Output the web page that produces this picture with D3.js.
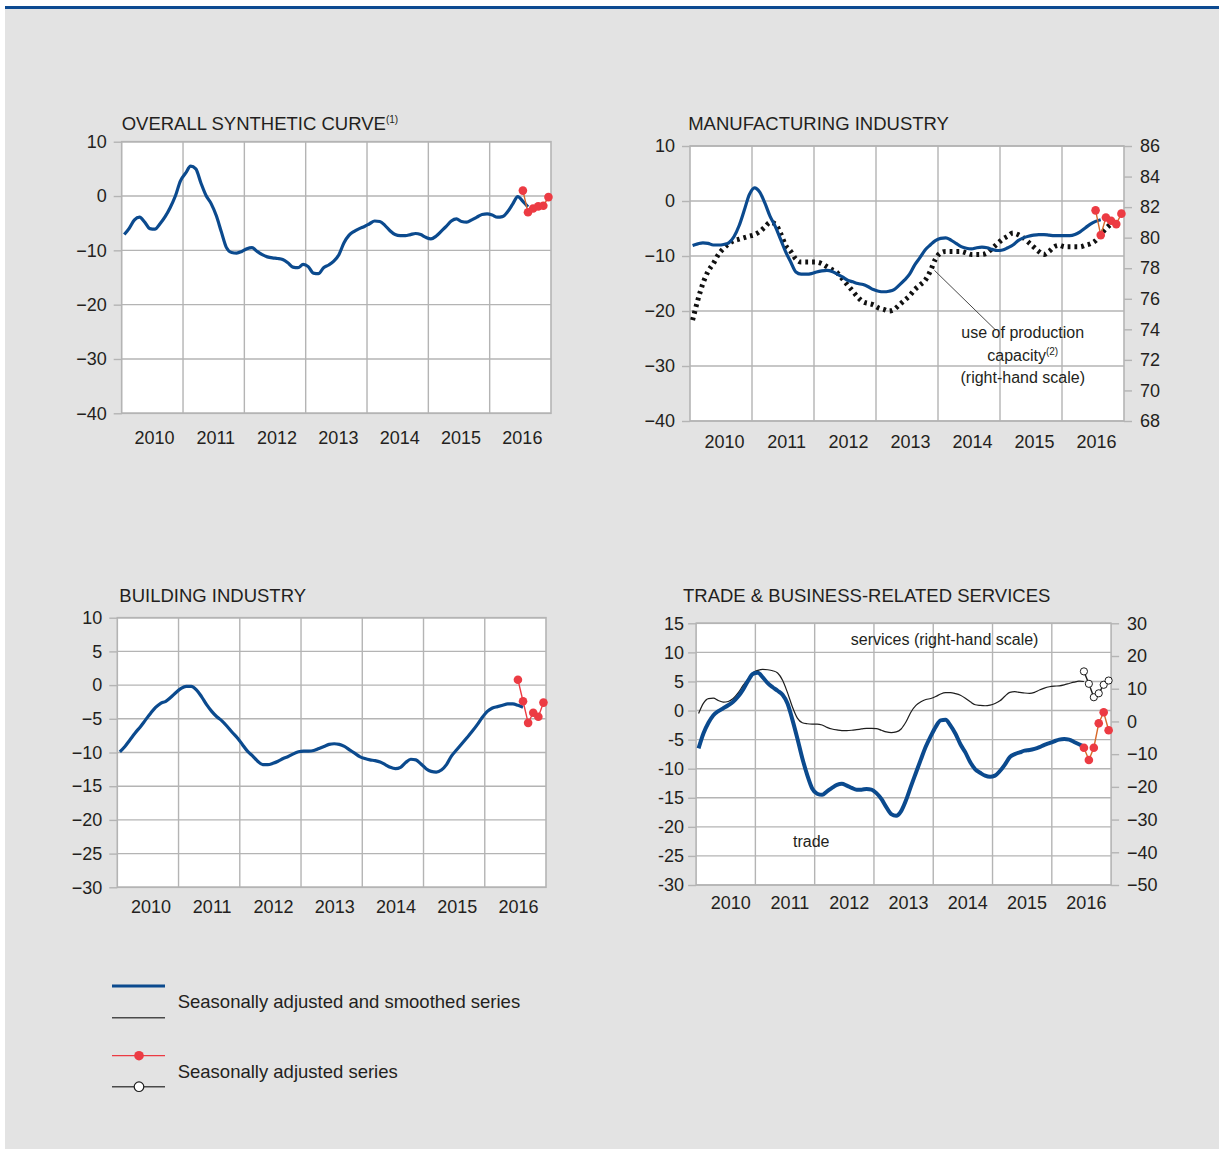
<!DOCTYPE html>
<html>
<head>
<meta charset="utf-8">
<script src="https://cdn.jsdelivr.net/npm/d3@7"></script>
<style>
  html, body { margin: 0; padding: 0; background: #ffffff; }
  svg { display: block; font-family: "Liberation Sans", Arial, Helvetica, sans-serif; }
</style>
</head>
<body>
<svg id="chart" width="1219" height="1149"></svg>
<script>
// ---- data: monthly values, index 0 = January 2010 ----
const yearLabels = ["2010", "2011", "2012", "2013", "2014", "2015", "2016"];
const rawStart = 78; // July 2016: first month of the unsmoothed series

// Overall synthetic curve, seasonally adjusted and smoothed
const overallSmoothed = [
  -7.1, -5.9, -4.4, -3.9, -4.8, -6.0, -6.1, -5.1, -3.8, -2.1,
   0.0,  2.8,  4.2,  5.5,  5.0,  2.4,  0.1, -1.4, -3.6, -6.6,
  -9.5, -10.4, -10.5, -10.2, -9.7, -9.5, -10.2, -10.8, -11.2, -11.4,
  -11.5, -11.7, -12.3, -13.1, -13.2, -12.6, -13.0, -14.2, -14.3, -13.2,
  -12.7, -12.0, -10.8, -8.6, -7.2, -6.5, -6.0, -5.6, -5.1, -4.6,
  -4.7, -5.4, -6.4, -7.1, -7.3, -7.3, -7.1, -6.9, -7.1, -7.6,
  -7.9, -7.4, -6.5, -5.6, -4.6, -4.2, -4.7, -4.8, -4.4, -3.9,
  -3.4, -3.3, -3.5, -3.9, -3.8, -2.9, -1.5, -0.1, -1.0, -2.0
];
const overallRaw = [1.0, -3.0, -2.3, -1.9, -1.8, -0.2];

// Manufacturing industry
const manufSmoothed = [
  -8.1, -7.8, -7.6, -7.7, -8.0, -8.0, -7.9, -7.6, -6.5, -4.5,
  -1.7,  1.2,  2.4,  1.6, -0.4, -2.8, -4.6, -6.9, -9.2, -11.1,
  -12.9, -13.3, -13.3, -13.2, -12.9, -12.7, -12.6, -12.8, -13.3, -13.8,
  -14.4, -14.7, -15.0, -15.2, -15.6, -16.1, -16.4, -16.5, -16.4, -16.1,
  -15.3, -14.4, -13.3, -11.6, -10.3, -8.9, -8.0, -7.2, -6.8, -6.7,
  -7.1, -7.7, -8.3, -8.6, -8.7, -8.5, -8.4, -8.5, -8.8, -9.0,
  -8.9, -8.5, -8.0, -7.2, -6.7, -6.4, -6.2, -6.1, -6.1, -6.2,
  -6.3, -6.3, -6.3, -6.3, -6.1, -5.6, -4.9, -4.2, -3.7, -3.4
];
const manufRaw = [-1.7, -6.2, -3.0, -3.6, -4.2, -2.3];
// Use of production capacity, % (right-hand scale)
const capacityUse = [
  74.6, 75.9, 77.0, 77.8, 78.3, 78.9, 79.3, 79.6, 79.8, 79.9,
  80.0, 80.1, 80.2, 80.4, 80.7, 81.0, 80.9, 80.3, 79.5, 79.1,
  78.6, 78.4, 78.4, 78.4, 78.4, 78.3, 78.1, 77.9, 77.7, 77.3,
  76.9, 76.5, 76.1, 75.8, 75.7, 75.6, 75.4, 75.3, 75.2, 75.3,
  75.6, 75.9, 76.2, 76.6, 76.9, 77.2, 77.8, 78.6, 79.0, 79.1,
  79.1, 79.1, 79.1, 79.0, 78.9, 78.9, 78.9, 79.0, 79.3, 79.6,
  79.9, 80.1, 80.3, 80.2, 80.0, 79.7, 79.4, 79.1, 78.9, 79.1,
  79.4, 79.5, 79.4, 79.4, 79.4, 79.4, 79.5, 79.6, 79.8, 80.2,
  80.6, 80.9
];

// Building industry
const buildingSmoothed = [
  -9.9, -9.1, -8.1, -7.1, -6.2, -5.2, -4.2, -3.3, -2.7, -2.4,
  -1.8, -1.1, -0.5, -0.2, -0.2, -0.7, -1.7, -2.9, -3.9, -4.7,
  -5.3, -6.1, -7.0, -7.8, -8.8, -9.8, -10.5, -11.3, -11.8, -11.8,
  -11.6, -11.3, -10.9, -10.6, -10.2, -9.9, -9.8, -9.8, -9.7, -9.4,
  -9.1, -8.8, -8.7, -8.8, -9.1, -9.6, -10.1, -10.6, -10.9, -11.1,
  -11.2, -11.4, -11.8, -12.2, -12.4, -12.2, -11.5, -11.0, -11.1, -11.7,
  -12.4, -12.8, -12.9, -12.6, -11.8, -10.5, -9.6, -8.7, -7.8, -6.9,
  -5.9, -4.8, -3.9, -3.4, -3.2, -3.0, -2.8, -2.8, -3.0, -3.3
];
const buildingRaw = [0.8, -2.4, -5.6, -4.1, -4.7, -2.6];

// Trade (left-hand scale)
const tradeSmoothed = [
  -6.5, -3.9, -2.1, -0.8, -0.1, 0.4, 0.9, 1.5, 2.4, 3.6,
   5.1, 6.3, 6.5, 5.7, 4.7, 4.0, 3.4, 2.7, 1.2, -1.6,
  -4.8, -8.2, -11.1, -13.4, -14.3, -14.5, -13.9, -13.3, -12.8, -12.6,
  -12.9, -13.3, -13.6, -13.6, -13.5, -13.6, -14.2, -15.2, -16.6, -17.8,
  -18.1, -17.3, -15.4, -13.0, -10.7, -8.4, -6.2, -4.4, -2.8, -1.7,
  -1.6, -2.6, -4.0, -5.8, -7.2, -8.9, -10.1, -10.7, -11.2, -11.4,
  -11.2, -10.4, -9.3, -8.0, -7.5, -7.2, -6.9, -6.8, -6.6, -6.3,
  -5.9, -5.6, -5.3, -5.0, -4.9, -5.0, -5.4, -5.8, -6.2
];
const tradeRaw = [-6.4, -8.5, -6.4, -2.2, -0.3, -3.4];
// Business-related services (right-hand scale)
const servicesSmoothed = [
   2.4, 5.6, 7.0, 7.1, 6.4, 5.9, 6.1, 7.0, 8.7, 11.0,
  12.9, 14.9, 15.6, 15.9, 15.8, 15.5, 14.8, 12.6, 8.8, 4.4,
   1.0, -0.4, -0.7, -0.8, -0.8, -1.1, -1.8, -2.3, -2.6, -2.8,
  -2.8, -2.7, -2.5, -2.3, -2.1, -2.1, -2.2, -2.7, -3.2, -3.4,
  -3.2, -2.3, -0.1, 2.9, 4.9, 6.0, 6.7, 7.0, 7.6, 8.4,
   8.8, 8.8, 8.5, 8.0, 7.1, 6.0, 5.1, 4.9, 4.8, 5.0,
   5.5, 6.3, 7.7, 8.9, 9.1, 8.9, 8.7, 8.6, 8.9, 9.6,
  10.2, 10.6, 10.8, 10.9, 11.2, 11.6, 12.0, 12.3, 12.2
];
const servicesRaw = [15.3, 11.5, 7.4, 8.6, 11.2, 12.5];

// ---- styling ----
const C = {
  page: "#e3e3e3",
  band: "#0d4a91",
  grid: "#b4b4b4",
  text: "#231f20",
  blue: "#0b4a8e",
  red: "#ec3b43",
  orange: "#d8692a",
  dark: "#1e1e1e"
};
const FONT = 18;     // tick and year labels
const FONT_T = 18.5; // titles and legend

const svg = d3.select("#chart");
svg.append("rect").attr("x", 5).attr("y", 6).attr("width", 1214).attr("height", 1143).attr("fill", C.page);
svg.append("rect").attr("x", 5).attr("y", 6).attr("width", 1214).attr("height", 3).attr("fill", C.band);

const minusFmt = d => (d < 0 ? "\u2212" + Math.abs(d) : String(d));
const hyphenFmt = d => String(d);

function panel(cfg) {
  const g = svg.append("g");
  const x = d3.scaleLinear().domain([0, 84]).range([cfg.left, cfg.left + cfg.width]);
  const y = d3.scaleLinear().domain(cfg.yDomain).range([cfg.top + cfg.height, cfg.top]);
  const yR = cfg.rDomain
    ? d3.scaleLinear().domain(cfg.rDomain).range([cfg.top + cfg.height, cfg.top])
    : null;
  const mx = i => x(i + 0.5);

  // plot background
  g.append("rect")
    .attr("x", cfg.left).attr("y", cfg.top)
    .attr("width", cfg.width).attr("height", cfg.height)
    .attr("fill", "#ffffff");

  // horizontal grid
  g.selectAll(".hg").data(cfg.yTicks).join("line")
    .attr("x1", cfg.left).attr("x2", cfg.left + cfg.width)
    .attr("y1", d => y(d)).attr("y2", d => y(d))
    .attr("stroke", C.grid).attr("stroke-width", 1.4);

  // vertical grid at each January
  g.selectAll(".vg").data(d3.range(1, 7)).join("line")
    .attr("x1", d => x(d * 12)).attr("x2", d => x(d * 12))
    .attr("y1", cfg.top).attr("y2", cfg.top + cfg.height)
    .attr("stroke", C.grid).attr("stroke-width", 1.4);

  // frame
  g.append("rect")
    .attr("x", cfg.left).attr("y", cfg.top)
    .attr("width", cfg.width).attr("height", cfg.height)
    .attr("fill", "none").attr("stroke", C.grid).attr("stroke-width", 1.6);

  // left axis
  const ax = g.append("g")
    .attr("transform", `translate(${cfg.left},0)`)
    .call(d3.axisLeft(y).tickValues(cfg.yTicks).tickSize(8).tickPadding(cfg.padL).tickFormat(cfg.fmt));
  ax.select(".domain").remove();
  ax.selectAll(".tick line").attr("stroke", C.grid).attr("stroke-width", 1.4);
  ax.selectAll(".tick text").attr("fill", C.text).attr("font-size", FONT)
    .attr("font-family", "Liberation Sans, Arial, sans-serif");

  // right axis
  if (yR) {
    const ar = g.append("g")
      .attr("transform", `translate(${cfg.left + cfg.width},0)`)
      .call(d3.axisRight(yR).tickValues(cfg.rTicks).tickSize(8).tickPadding(8).tickFormat(minusFmt));
    ar.select(".domain").remove();
    ar.selectAll(".tick line").attr("stroke", C.grid).attr("stroke-width", 1.4);
    ar.selectAll(".tick text").attr("fill", C.text).attr("font-size", FONT)
      .attr("font-family", "Liberation Sans, Arial, sans-serif");
  }

  // year labels
  g.selectAll(".yl").data(yearLabels).join("text")
    .attr("x", (d, i) => x(i * 12 + cfg.yearPos))
    .attr("y", cfg.yearY)
    .attr("text-anchor", "middle")
    .attr("font-size", FONT).attr("fill", C.text)
    .text(d => d);

  // title
  const t = g.append("text")
    .attr("x", cfg.titleX).attr("y", cfg.titleY)
    .attr("font-size", FONT_T).attr("fill", C.text)
    .text(cfg.title);
  if (cfg.sup) {
    t.append("tspan").attr("font-size", 10).attr("dy", -7).text(cfg.sup);
  }

  return { g, x, y, yR, mx };
}

const smoothLine = (xf, yf) => d3.line().x((d, i) => xf(i)).y(d => yf(d)).curve(d3.curveMonotoneX);
const rawLine = (xf, yf) => d3.line().x((d, i) => xf(rawStart + i)).y(d => yf(d));

function drawRaw(p, values, scale, lineColor, filled) {
  p.g.append("path").datum(values)
    .attr("d", rawLine(p.mx, scale))
    .attr("fill", "none").attr("stroke", lineColor).attr("stroke-width", 1.4);
  p.g.selectAll(null).data(values).join("circle")
    .attr("cx", (d, i) => p.mx(rawStart + i))
    .attr("cy", d => scale(d))
    .attr("r", filled ? 4.3 : 3.6)
    .attr("fill", filled ? C.red : "#ffffff")
    .attr("stroke", filled ? "none" : C.dark)
    .attr("stroke-width", 1);
}

// ---- Overall synthetic curve ----
const p1 = panel({
  left: 121.7, top: 141.7, width: 429.3, height: 271.6,
  yDomain: [-40, 10], yTicks: [-40, -30, -20, -10, 0, 10], fmt: minusFmt, padL: 7,
  title: "OVERALL SYNTHETIC CURVE", sup: "(1)", titleX: 121.7, titleY: 130,
  yearY: 443.5, yearPos: 6.4
});
p1.g.append("path").datum(overallSmoothed)
  .attr("d", smoothLine(p1.mx, p1.y))
  .attr("fill", "none").attr("stroke", C.blue).attr("stroke-width", 3.2).attr("stroke-linejoin", "round");
drawRaw(p1, overallRaw, p1.y, C.orange, true);

// ---- Manufacturing industry ----
const p2 = panel({
  left: 690, top: 146, width: 434, height: 275,
  yDomain: [-40, 10], yTicks: [-40, -30, -20, -10, 0, 10], fmt: minusFmt, padL: 7,
  rDomain: [68, 86], rTicks: d3.range(68, 87, 2),
  title: "MANUFACTURING INDUSTRY", titleX: 688.2, titleY: 130,
  yearY: 448, yearPos: 6.7
});
p2.g.append("path").datum(capacityUse)
  .attr("d", smoothLine(p2.mx, p2.yR))
  .attr("fill", "none").attr("stroke", "#111111").attr("stroke-width", 5)
  .attr("stroke-dasharray", "2.8,4");
p2.g.append("path").datum(manufSmoothed)
  .attr("d", smoothLine(p2.mx, p2.y))
  .attr("fill", "none").attr("stroke", C.blue).attr("stroke-width", 3.2).attr("stroke-linejoin", "round");
drawRaw(p2, manufRaw, p2.y, C.orange, true);
// annotation for the capacity series
p2.g.append("line")
  .attr("x1", p2.mx(46.8)).attr("y1", p2.y(-12.6))
  .attr("x2", p2.mx(58.7)).attr("y2", p2.y(-23.5))
  .attr("stroke", "#333333").attr("stroke-width", 0.9);
const capNote = p2.g.append("text").attr("text-anchor", "middle").attr("font-size", 16).attr("fill", C.text);
capNote.append("tspan").attr("x", p2.x(64.4)).attr("y", p2.y(-24.96)).text("use of production");
const capLine2 = capNote.append("tspan").attr("x", p2.x(64.4)).attr("y", p2.y(-29.1)).text("capacity");
capLine2.append("tspan").attr("font-size", 10).attr("dy", -6).text("(2)");
capNote.append("tspan").attr("x", p2.x(64.4)).attr("y", p2.y(-33.0)).text("(right-hand scale)");

// ---- Building industry ----
const p3 = panel({
  left: 117.3, top: 617.7, width: 428.7, height: 269.6,
  yDomain: [-30, 10], yTicks: d3.range(-30, 11, 5), fmt: minusFmt, padL: 7,
  title: "BUILDING INDUSTRY", titleX: 119.3, titleY: 601.7,
  yearY: 913.3, yearPos: 6.6
});
p3.g.append("path").datum(buildingSmoothed)
  .attr("d", smoothLine(p3.mx, p3.y))
  .attr("fill", "none").attr("stroke", C.blue).attr("stroke-width", 3.2).attr("stroke-linejoin", "round");
drawRaw(p3, buildingRaw, p3.y, C.red, true);

// ---- Trade & business-related services ----
const p4 = panel({
  left: 696.1, top: 623.3, width: 415, height: 261.7,
  yDomain: [-30, 15], yTicks: d3.range(-30, 16, 5), fmt: hyphenFmt, padL: 4,
  rDomain: [-50, 30], rTicks: d3.range(-50, 31, 10),
  title: "TRADE & BUSINESS-RELATED SERVICES", titleX: 683, titleY: 601.7,
  yearY: 908.5, yearPos: 7.0
});
p4.g.append("path").datum(servicesSmoothed)
  .attr("d", smoothLine(p4.mx, p4.yR))
  .attr("fill", "none").attr("stroke", C.dark).attr("stroke-width", 1.2);
p4.g.append("path").datum(tradeSmoothed)
  .attr("d", smoothLine(p4.mx, p4.y))
  .attr("fill", "none").attr("stroke", C.blue).attr("stroke-width", 4).attr("stroke-linejoin", "round");
drawRaw(p4, tradeRaw, p4.y, C.orange, true);
drawRaw(p4, servicesRaw, p4.yR, C.dark, false);
p4.g.append("text").attr("x", p4.x(50.3)).attr("y", p4.y(11.27))
  .attr("text-anchor", "middle").attr("font-size", 16).attr("fill", C.text)
  .text("services (right-hand scale)");
p4.g.append("text").attr("x", p4.x(23.3)).attr("y", p4.y(-23.4))
  .attr("text-anchor", "middle").attr("font-size", 16).attr("fill", C.text)
  .text("trade");

// ---- legend ----
const lg = svg.append("g");
lg.append("line").attr("x1", 112).attr("x2", 165).attr("y1", 986).attr("y2", 986)
  .attr("stroke", C.blue).attr("stroke-width", 3);
lg.append("line").attr("x1", 112).attr("x2", 165).attr("y1", 1017.7).attr("y2", 1017.7)
  .attr("stroke", "#4a4a4a").attr("stroke-width", 1.4);
lg.append("text").attr("x", 177.7).attr("y", 1007.5).attr("font-size", FONT_T).attr("fill", C.text)
  .text("Seasonally adjusted and smoothed series");
lg.append("line").attr("x1", 112).attr("x2", 165).attr("y1", 1055.7).attr("y2", 1055.7)
  .attr("stroke", C.red).attr("stroke-width", 1.3);
lg.append("circle").attr("cx", 139).attr("cy", 1055.7).attr("r", 4.8).attr("fill", C.red);
lg.append("line").attr("x1", 112).attr("x2", 165).attr("y1", 1086.7).attr("y2", 1086.7)
  .attr("stroke", "#4a4a4a").attr("stroke-width", 1.4);
lg.append("circle").attr("cx", 139).attr("cy", 1086.7).attr("r", 4.8)
  .attr("fill", "#ffffff").attr("stroke", C.dark).attr("stroke-width", 1.2);
lg.append("text").attr("x", 177.7).attr("y", 1078.3).attr("font-size", FONT_T).attr("fill", C.text)
  .text("Seasonally adjusted series");
</script>
</body>
</html>
